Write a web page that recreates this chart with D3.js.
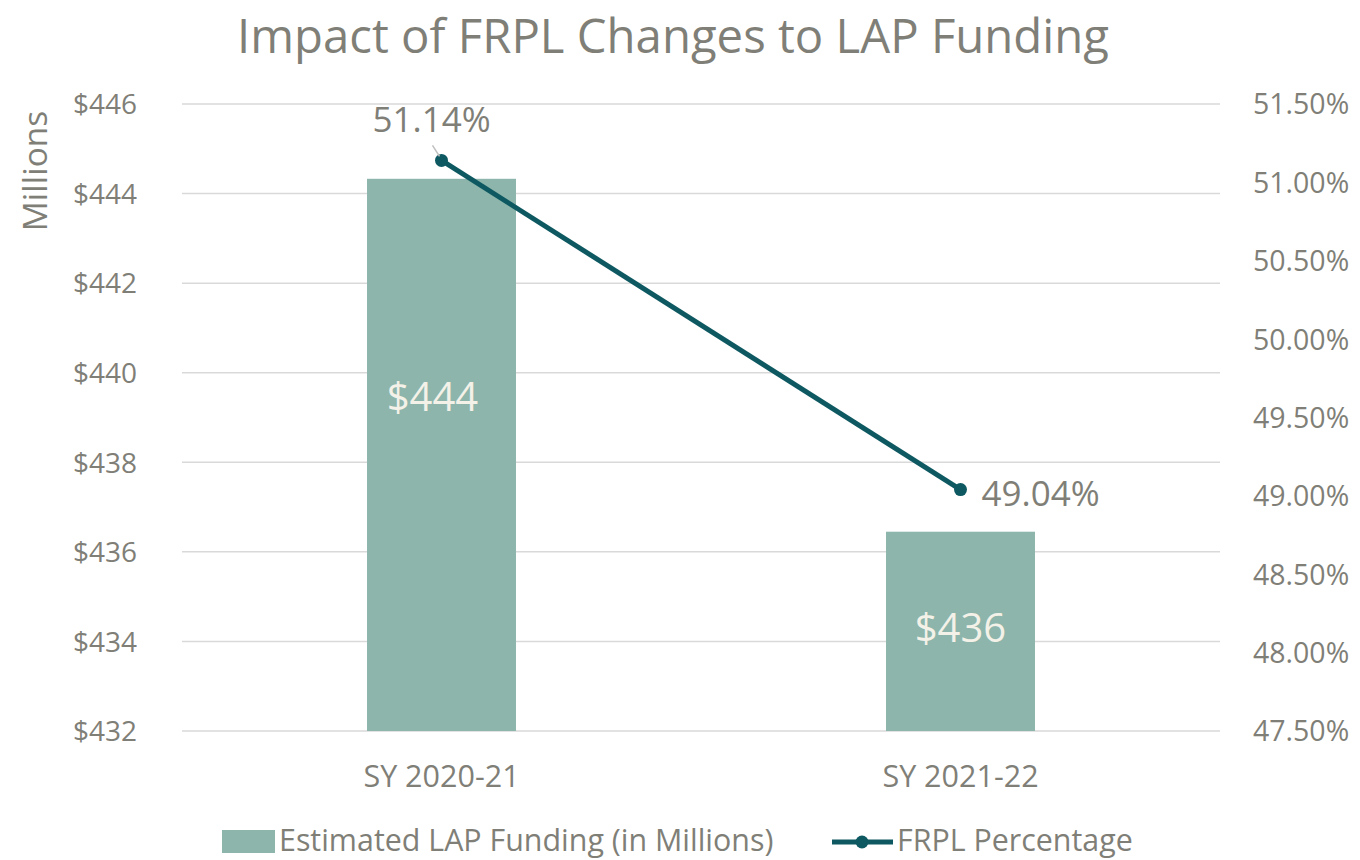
<!DOCTYPE html>
<html><head><meta charset="utf-8">
<script src="https://cdn.jsdelivr.net/npm/d3@7"></script>
<style>
html,body{margin:0;padding:0;background:#fff;}
svg{display:block;font-family:"Open Sans","Noto Sans",sans-serif;}
svg text{font-family:"Open Sans","Noto Sans",sans-serif;}
</style></head>
<body><svg id="chart" width="1360" height="860"></svg>
<script>
const categories = ["SY 2020-21", "SY 2021-22"];
const funding = [444.33, 436.45];          // $ millions
const fundingLabels = ["$444", "$436"];
const frpl = [51.14, 49.04];               // percent
const frplLabels = ["51.14%", "49.04%"];
const leftTicks = [432, 434, 436, 438, 440, 442, 444, 446];
const rightTicks = [47.5, 48, 48.5, 49, 49.5, 50, 50.5, 51, 51.5];
const barLabelAt = [439.46, 434.3];        // label anchor in $ millions
const seriesNames = ["Estimated LAP Funding (in Millions)", "FRPL Percentage"];

const W = 1360, H = 860;
const m = {left: 182, right: 140, top: 104, bottom: 129};
const svg = d3.select("#chart");
const grey = "#7f7f78";
const barColor = "#8db5ab";
const lineColor = "#0e5961";

const x = d3.scaleBand().domain(categories).range([m.left, W - m.right]).paddingInner(0).paddingOuter(0);
const yL = d3.scaleLinear().domain([432, 446]).range([H - m.bottom, m.top]);
const yR = d3.scaleLinear().domain([47.5, 51.5]).range([H - m.bottom, m.top]);

// title
svg.append("text").attr("x", 673).attr("y", 53).attr("text-anchor", "middle")
  .attr("font-size", 47.3).attr("fill", grey).text("Impact of FRPL Changes to LAP Funding");

// gridlines
svg.append("g").selectAll("line").data(leftTicks).join("line")
  .attr("x1", m.left).attr("x2", W - m.right)
  .attr("y1", d => yL(d)).attr("y2", d => yL(d))
  .attr("stroke", "#d9d9d9").attr("stroke-width", 1.5);

function styleAxis(g, size, dy) {
  g.attr("font-family", null).attr("font-size", null);
  g.select(".domain").remove();
  g.selectAll("text").attr("font-size", size).attr("fill", grey).attr("dy", dy);
}

// left axis
const axL = svg.append("g").attr("transform", `translate(${m.left - 42},0)`)
  .call(d3.axisLeft(yL).tickValues(leftTicks).tickSize(0).tickFormat(d => "$" + d));
styleAxis(axL, 28, "0.35em");

// right axis
const axR = svg.append("g").attr("transform", `translate(${W - m.right + 30},0)`)
  .call(d3.axisRight(yR).tickValues(rightTicks).tickSize(0).tickFormat(d => d.toFixed(2) + "%"));
styleAxis(axR, 28.5, "0.35em");

// x axis
const axX = svg.append("g").attr("transform", `translate(0,${H - m.bottom + 31})`)
  .call(d3.axisBottom(x).tickSize(0));
styleAxis(axX, 30.5, "0.71em");

// Millions label
svg.append("text").attr("transform", "translate(47,171) rotate(-90)").attr("text-anchor", "middle")
  .attr("font-size", 33.5).attr("fill", grey).text("Millions");

// bars
const bw = x.bandwidth() * 0.287;
svg.append("g").selectAll("rect").data(categories).join("rect")
  .attr("x", d => x(d) + x.bandwidth() / 2 - bw / 2)
  .attr("width", bw)
  .attr("y", (d, i) => yL(funding[i]))
  .attr("height", (d, i) => yL(432) - yL(funding[i]))
  .attr("fill", barColor);

svg.append("g").selectAll("text").data(categories).join("text")
  .attr("x", (d, i) => x(d) + x.bandwidth() / 2 - (i === 0 ? 9 : 0))
  .attr("y", (d, i) => yL(barLabelAt[i]))
  .attr("dy", "0.35em").attr("text-anchor", "middle")
  .attr("font-size", 40).attr("fill", "#f3f1e8")
  .text((d, i) => fundingLabels[i]);

// line
const cx = d => x(d) + x.bandwidth() / 2;
svg.append("path").datum(categories)
  .attr("d", d3.line().x(d => cx(d)).y((d, i) => yR(frpl[i])))
  .attr("fill", "none").attr("stroke", lineColor).attr("stroke-width", 5);
svg.append("g").selectAll("circle").data(categories).join("circle")
  .attr("cx", cx).attr("cy", (d, i) => yR(frpl[i])).attr("r", 6.5).attr("fill", lineColor);

// leader line for first label
svg.append("line").attr("x1", cx(categories[0]) - 9).attr("y1", yR(frpl[0]) - 15)
  .attr("x2", cx(categories[0]) - 2).attr("y2", yR(frpl[0]) - 4)
  .attr("stroke", "#bfbfbf").attr("stroke-width", 1.5);

// line labels
svg.append("text").attr("x", cx(categories[0]) - 10).attr("y", yR(frpl[0]) - 28)
  .attr("text-anchor", "middle").attr("font-size", 35).attr("fill", grey).text(frplLabels[0]);
svg.append("text").attr("x", cx(categories[1]) + 21).attr("y", yR(frpl[1]) + 16)
  .attr("text-anchor", "start").attr("font-size", 35).attr("fill", grey).text(frplLabels[1]);

// legend
const lg = svg.append("g");
lg.append("rect").attr("x", 222).attr("y", 830).attr("width", 53).attr("height", 23).attr("fill", barColor);
lg.append("text").attr("x", 279).attr("y", 851).attr("font-size", 30.4).attr("fill", grey).text(seriesNames[0]);
lg.append("line").attr("x1", 832).attr("x2", 893).attr("y1", 842).attr("y2", 842).attr("stroke", lineColor).attr("stroke-width", 5);
lg.append("circle").attr("cx", 862).attr("cy", 842).attr("r", 6.5).attr("fill", lineColor);
lg.append("text").attr("x", 897).attr("y", 851).attr("font-size", 30.4).attr("fill", grey).text(seriesNames[1]);
</script></body></html>
